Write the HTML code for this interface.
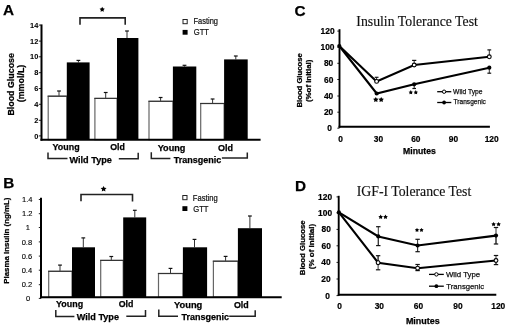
<!DOCTYPE html>
<html><head><meta charset="utf-8"><title>Figure</title>
<style>
html,body{margin:0;padding:0;background:#fff;}
body{width:520px;height:327px;overflow:hidden;font-family:"Liberation Sans", sans-serif;}
svg{display:block;filter:grayscale(100%);}
</style></head>
<body>
<svg width="520" height="327" viewBox="0 0 520 327">
<rect x="0" y="0" width="520" height="327" fill="#fff"/>
<text x="3.0" y="15.4" font-size="15.3" font-weight="bold" stroke="#000" stroke-width="0.25" text-anchor="start" font-family='"Liberation Sans", sans-serif' fill="#000">A</text>
<text x="38.3" y="27.7" font-size="7.4" font-weight="bold" stroke="#000" stroke-width="0.05" text-anchor="end" font-family='"Liberation Sans", sans-serif' fill="#000">14</text>
<line x1="38.8" y1="25.1" x2="41" y2="25.1" stroke="#222" stroke-width="1" stroke-linecap="butt"/>
<text x="38.3" y="43.7" font-size="7.4" font-weight="bold" stroke="#000" stroke-width="0.05" text-anchor="end" font-family='"Liberation Sans", sans-serif' fill="#000">12</text>
<line x1="38.8" y1="41.1" x2="41" y2="41.1" stroke="#222" stroke-width="1" stroke-linecap="butt"/>
<text x="38.3" y="59.4" font-size="7.4" font-weight="bold" stroke="#000" stroke-width="0.05" text-anchor="end" font-family='"Liberation Sans", sans-serif' fill="#000">10</text>
<line x1="38.8" y1="56.8" x2="41" y2="56.8" stroke="#222" stroke-width="1" stroke-linecap="butt"/>
<text x="38.3" y="75.3" font-size="7.4" font-weight="bold" stroke="#000" stroke-width="0.05" text-anchor="end" font-family='"Liberation Sans", sans-serif' fill="#000">8</text>
<line x1="38.8" y1="72.7" x2="41" y2="72.7" stroke="#222" stroke-width="1" stroke-linecap="butt"/>
<text x="38.3" y="91.1" font-size="7.4" font-weight="bold" stroke="#000" stroke-width="0.05" text-anchor="end" font-family='"Liberation Sans", sans-serif' fill="#000">6</text>
<line x1="38.8" y1="88.5" x2="41" y2="88.5" stroke="#222" stroke-width="1" stroke-linecap="butt"/>
<text x="38.3" y="106.9" font-size="7.4" font-weight="bold" stroke="#000" stroke-width="0.05" text-anchor="end" font-family='"Liberation Sans", sans-serif' fill="#000">4</text>
<line x1="38.8" y1="104.3" x2="41" y2="104.3" stroke="#222" stroke-width="1" stroke-linecap="butt"/>
<text x="38.3" y="122.9" font-size="7.4" font-weight="bold" stroke="#000" stroke-width="0.05" text-anchor="end" font-family='"Liberation Sans", sans-serif' fill="#000">2</text>
<line x1="38.8" y1="120.3" x2="41" y2="120.3" stroke="#222" stroke-width="1" stroke-linecap="butt"/>
<text x="38.3" y="138.5" font-size="7.4" font-weight="bold" stroke="#000" stroke-width="0.05" text-anchor="end" font-family='"Liberation Sans", sans-serif' fill="#000">0</text>
<line x1="38.8" y1="135.9" x2="41" y2="135.9" stroke="#222" stroke-width="1" stroke-linecap="butt"/>
<text transform="translate(13.7,84.35) rotate(-90)" x="0" y="0" font-size="8.9" font-weight="bold" stroke="#000" stroke-width="0.25" text-anchor="middle" font-family='"Liberation Sans", sans-serif' textLength="62.5" lengthAdjust="spacingAndGlyphs">Blood Glucose</text>
<text transform="translate(24.3,83.5) rotate(-90)" x="0" y="0" font-size="8.9" font-weight="bold" stroke="#000" stroke-width="0.25" text-anchor="middle" font-family='"Liberation Sans", sans-serif' textLength="37.6" lengthAdjust="spacingAndGlyphs">(mmol/L)</text>
<line x1="59.0" y1="96.2" x2="59.0" y2="91.0" stroke="#333" stroke-width="1.0" stroke-linecap="butt"/>
<line x1="57.1" y1="91.0" x2="60.9" y2="91.0" stroke="#111" stroke-width="1.2" stroke-linecap="butt"/>
<line x1="78.4" y1="62.4" x2="78.4" y2="60.4" stroke="#333" stroke-width="1.0" stroke-linecap="butt"/>
<line x1="76.5" y1="60.4" x2="80.3" y2="60.4" stroke="#111" stroke-width="1.2" stroke-linecap="butt"/>
<line x1="105.7" y1="98.4" x2="105.7" y2="92.5" stroke="#333" stroke-width="1.0" stroke-linecap="butt"/>
<line x1="103.8" y1="92.5" x2="107.6" y2="92.5" stroke="#111" stroke-width="1.2" stroke-linecap="butt"/>
<line x1="127.0" y1="38.0" x2="127.0" y2="31.0" stroke="#333" stroke-width="1.0" stroke-linecap="butt"/>
<line x1="125.1" y1="31.0" x2="128.9" y2="31.0" stroke="#111" stroke-width="1.2" stroke-linecap="butt"/>
<line x1="160.6" y1="101.3" x2="160.6" y2="97.5" stroke="#333" stroke-width="1.0" stroke-linecap="butt"/>
<line x1="158.7" y1="97.5" x2="162.5" y2="97.5" stroke="#111" stroke-width="1.2" stroke-linecap="butt"/>
<line x1="184.5" y1="66.5" x2="184.5" y2="65.3" stroke="#333" stroke-width="1.0" stroke-linecap="butt"/>
<line x1="182.6" y1="65.3" x2="186.4" y2="65.3" stroke="#111" stroke-width="1.2" stroke-linecap="butt"/>
<line x1="212.6" y1="103.5" x2="212.6" y2="99.0" stroke="#333" stroke-width="1.0" stroke-linecap="butt"/>
<line x1="210.7" y1="99.0" x2="214.5" y2="99.0" stroke="#111" stroke-width="1.2" stroke-linecap="butt"/>
<line x1="235.8" y1="59.4" x2="235.8" y2="56.0" stroke="#333" stroke-width="1.0" stroke-linecap="butt"/>
<line x1="233.9" y1="56.0" x2="237.7" y2="56.0" stroke="#111" stroke-width="1.2" stroke-linecap="butt"/>
<rect x="48.2" y="96.2" width="18.6" height="43.5" fill="#fff" stroke="#666" stroke-width="1.2"/>
<line x1="47.6" y1="96.2" x2="66.8" y2="96.2" stroke="#333" stroke-width="1.1" stroke-linecap="butt"/>
<rect x="66.8" y="62.4" width="22.8" height="77.3" fill="#000"/>
<rect x="94.9" y="98.4" width="22.1" height="41.3" fill="#fff" stroke="#666" stroke-width="1.2"/>
<line x1="94.3" y1="98.4" x2="117.0" y2="98.4" stroke="#333" stroke-width="1.1" stroke-linecap="butt"/>
<rect x="117.0" y="38.0" width="21.4" height="101.7" fill="#000"/>
<rect x="149.0" y="101.3" width="23.9" height="38.4" fill="#fff" stroke="#666" stroke-width="1.2"/>
<line x1="148.4" y1="101.3" x2="172.9" y2="101.3" stroke="#333" stroke-width="1.1" stroke-linecap="butt"/>
<rect x="172.9" y="66.5" width="23.4" height="73.2" fill="#000"/>
<rect x="200.7" y="103.5" width="23.4" height="36.2" fill="#fff" stroke="#666" stroke-width="1.2"/>
<line x1="200.1" y1="103.5" x2="224.1" y2="103.5" stroke="#333" stroke-width="1.1" stroke-linecap="butt"/>
<rect x="224.1" y="59.4" width="23.6" height="80.3" fill="#000"/>
<line x1="41.5" y1="24.4" x2="41.5" y2="140.7" stroke="#000" stroke-width="2" stroke-linecap="butt"/>
<line x1="40.5" y1="139.7" x2="260.6" y2="139.7" stroke="#000" stroke-width="2.1" stroke-linecap="butt"/>
<polyline points="80,24.8 80,17.9 125.2,17.9 125.2,24.8" fill="none" stroke="#222" stroke-width="1.6" stroke-linejoin="miter"/>
<polygon points="102.20,6.70 103.02,8.37 104.86,8.63 103.53,9.93 103.85,11.77 102.20,10.90 100.55,11.77 100.87,9.93 99.54,8.63 101.38,8.37" fill="#000"/>
<rect x="183.0" y="19.5" width="4.2" height="4.2" fill="#fff" stroke="#222" stroke-width="1.0"/>
<text x="193.5" y="24.0" font-size="8.6" stroke="#111" stroke-width="0.22" text-anchor="start" font-family='"Liberation Sans", sans-serif' fill="#111" textLength="24.5" lengthAdjust="spacingAndGlyphs">Fasting</text>
<rect x="182.6" y="29.9" width="5.0" height="4.8" fill="#000"/>
<text x="193.8" y="34.8" font-size="8.6" stroke="#111" stroke-width="0.22" text-anchor="start" font-family='"Liberation Sans", sans-serif' fill="#111" textLength="15.2" lengthAdjust="spacingAndGlyphs">GTT</text>
<text x="52.5" y="149.7" font-size="9.2" font-weight="bold" stroke="#000" stroke-width="0.25" text-anchor="start" font-family='"Liberation Sans", sans-serif' fill="#000" textLength="27.1" lengthAdjust="spacingAndGlyphs">Young</text>
<text x="110.2" y="149.8" font-size="9.2" font-weight="bold" stroke="#000" stroke-width="0.25" text-anchor="start" font-family='"Liberation Sans", sans-serif' fill="#000" textLength="14.7" lengthAdjust="spacingAndGlyphs">Old</text>
<text x="157.7" y="151.4" font-size="9.2" font-weight="bold" stroke="#000" stroke-width="0.25" text-anchor="start" font-family='"Liberation Sans", sans-serif' fill="#000" textLength="27.7" lengthAdjust="spacingAndGlyphs">Young</text>
<text x="217.9" y="151.4" font-size="9.2" font-weight="bold" stroke="#000" stroke-width="0.25" text-anchor="start" font-family='"Liberation Sans", sans-serif' fill="#000" textLength="15.0" lengthAdjust="spacingAndGlyphs">Old</text>
<polyline points="48.0,152.5 48.0,158.6 67.5,158.6" fill="none" stroke="#222" stroke-width="1.5" stroke-linejoin="miter"/>
<text x="69.5" y="163.0" font-size="9.3" font-weight="bold" stroke="#000" stroke-width="0.25" text-anchor="start" font-family='"Liberation Sans", sans-serif' fill="#000" textLength="42.4" lengthAdjust="spacingAndGlyphs">Wild Type</text>
<polyline points="118.8,158.7 138.2,158.7 138.2,152.7" fill="none" stroke="#222" stroke-width="1.5" stroke-linejoin="miter"/>
<polyline points="151.3,152.3 151.3,158.6 170.4,158.6" fill="none" stroke="#222" stroke-width="1.5" stroke-linejoin="miter"/>
<text x="173.8" y="163.0" font-size="9.3" font-weight="bold" stroke="#000" stroke-width="0.25" text-anchor="start" font-family='"Liberation Sans", sans-serif' fill="#000" textLength="47.5" lengthAdjust="spacingAndGlyphs">Transgenic</text>
<polyline points="221.9,158.0 247.3,158.0 247.3,152.5" fill="none" stroke="#222" stroke-width="1.5" stroke-linejoin="miter"/>
<text x="3.3" y="187.7" font-size="15.3" font-weight="bold" stroke="#000" stroke-width="0.25" text-anchor="start" font-family='"Liberation Sans", sans-serif' fill="#000">B</text>
<text x="27.2" y="202.1" font-size="7.5" stroke="#000" stroke-width="0.12" text-anchor="middle" font-family='"Liberation Sans", sans-serif' fill="#000">1.4</text>
<line x1="38.8" y1="199.5" x2="41" y2="199.5" stroke="#222" stroke-width="1" stroke-linecap="butt"/>
<text x="27.3" y="216.3" font-size="7.5" stroke="#000" stroke-width="0.12" text-anchor="middle" font-family='"Liberation Sans", sans-serif' fill="#000">1.2</text>
<line x1="38.8" y1="213.7" x2="41" y2="213.7" stroke="#222" stroke-width="1" stroke-linecap="butt"/>
<text x="27.9" y="230.1" font-size="7.5" stroke="#000" stroke-width="0.12" text-anchor="middle" font-family='"Liberation Sans", sans-serif' fill="#000">1</text>
<line x1="38.8" y1="227.5" x2="41" y2="227.5" stroke="#222" stroke-width="1" stroke-linecap="butt"/>
<text x="26.9" y="244.5" font-size="7.5" stroke="#000" stroke-width="0.12" text-anchor="middle" font-family='"Liberation Sans", sans-serif' fill="#000">0.8</text>
<line x1="38.8" y1="241.9" x2="41" y2="241.9" stroke="#222" stroke-width="1" stroke-linecap="butt"/>
<text x="26.9" y="258.7" font-size="7.5" stroke="#000" stroke-width="0.12" text-anchor="middle" font-family='"Liberation Sans", sans-serif' fill="#000">0.6</text>
<line x1="38.8" y1="256.1" x2="41" y2="256.1" stroke="#222" stroke-width="1" stroke-linecap="butt"/>
<text x="26.9" y="272.8" font-size="7.5" stroke="#000" stroke-width="0.12" text-anchor="middle" font-family='"Liberation Sans", sans-serif' fill="#000">0.4</text>
<line x1="38.8" y1="270.2" x2="41" y2="270.2" stroke="#222" stroke-width="1" stroke-linecap="butt"/>
<text x="26.9" y="287.3" font-size="7.5" stroke="#000" stroke-width="0.12" text-anchor="middle" font-family='"Liberation Sans", sans-serif' fill="#000">0.2</text>
<line x1="38.8" y1="284.7" x2="41" y2="284.7" stroke="#222" stroke-width="1" stroke-linecap="butt"/>
<text x="28.2" y="301.0" font-size="7.5" stroke="#000" stroke-width="0.12" text-anchor="middle" font-family='"Liberation Sans", sans-serif' fill="#000">0</text>
<line x1="38.8" y1="298.4" x2="41" y2="298.4" stroke="#222" stroke-width="1" stroke-linecap="butt"/>
<text transform="translate(9.3,240.65) rotate(-90)" x="0" y="0" font-size="7.8" font-weight="bold" stroke="#000" stroke-width="0.25" text-anchor="middle" font-family='"Liberation Sans", sans-serif' textLength="86.1" lengthAdjust="spacingAndGlyphs">Plasma Insulin (ng/mL)</text>
<line x1="60.0" y1="271.3" x2="60.0" y2="265.1" stroke="#333" stroke-width="1.0" stroke-linecap="butt"/>
<line x1="58.1" y1="265.1" x2="61.9" y2="265.1" stroke="#111" stroke-width="1.2" stroke-linecap="butt"/>
<line x1="83.3" y1="247.3" x2="83.3" y2="237.9" stroke="#333" stroke-width="1.0" stroke-linecap="butt"/>
<line x1="81.4" y1="237.9" x2="85.2" y2="237.9" stroke="#111" stroke-width="1.2" stroke-linecap="butt"/>
<line x1="111.3" y1="260.4" x2="111.3" y2="256.5" stroke="#333" stroke-width="1.0" stroke-linecap="butt"/>
<line x1="109.4" y1="256.5" x2="113.2" y2="256.5" stroke="#111" stroke-width="1.2" stroke-linecap="butt"/>
<line x1="134.8" y1="217.4" x2="134.8" y2="210.3" stroke="#333" stroke-width="1.0" stroke-linecap="butt"/>
<line x1="132.9" y1="210.3" x2="136.7" y2="210.3" stroke="#111" stroke-width="1.2" stroke-linecap="butt"/>
<line x1="170.5" y1="273.5" x2="170.5" y2="268.4" stroke="#333" stroke-width="1.0" stroke-linecap="butt"/>
<line x1="168.6" y1="268.4" x2="172.4" y2="268.4" stroke="#111" stroke-width="1.2" stroke-linecap="butt"/>
<line x1="194.5" y1="247.3" x2="194.5" y2="239.4" stroke="#333" stroke-width="1.0" stroke-linecap="butt"/>
<line x1="192.6" y1="239.4" x2="196.4" y2="239.4" stroke="#111" stroke-width="1.2" stroke-linecap="butt"/>
<line x1="225.6" y1="261.2" x2="225.6" y2="256.4" stroke="#333" stroke-width="1.0" stroke-linecap="butt"/>
<line x1="223.7" y1="256.4" x2="227.5" y2="256.4" stroke="#111" stroke-width="1.2" stroke-linecap="butt"/>
<line x1="249.9" y1="228.2" x2="249.9" y2="216.0" stroke="#333" stroke-width="1.0" stroke-linecap="butt"/>
<line x1="248.0" y1="216.0" x2="251.8" y2="216.0" stroke="#111" stroke-width="1.2" stroke-linecap="butt"/>
<rect x="48.7" y="271.3" width="23.3" height="25.9" fill="#fff" stroke="#666" stroke-width="1.2"/>
<line x1="48.1" y1="271.3" x2="72.0" y2="271.3" stroke="#333" stroke-width="1.1" stroke-linecap="butt"/>
<rect x="72.0" y="247.3" width="23.0" height="49.9" fill="#000"/>
<rect x="100.7" y="260.4" width="22.5" height="36.8" fill="#fff" stroke="#666" stroke-width="1.2"/>
<line x1="100.1" y1="260.4" x2="123.2" y2="260.4" stroke="#333" stroke-width="1.1" stroke-linecap="butt"/>
<rect x="123.2" y="217.4" width="23.0" height="79.8" fill="#000"/>
<rect x="158.5" y="273.5" width="24.4" height="23.7" fill="#fff" stroke="#666" stroke-width="1.2"/>
<line x1="157.9" y1="273.5" x2="182.9" y2="273.5" stroke="#333" stroke-width="1.1" stroke-linecap="butt"/>
<rect x="182.9" y="247.3" width="24.2" height="49.9" fill="#000"/>
<rect x="213.4" y="261.2" width="24.5" height="36.0" fill="#fff" stroke="#666" stroke-width="1.2"/>
<line x1="212.8" y1="261.2" x2="237.9" y2="261.2" stroke="#333" stroke-width="1.1" stroke-linecap="butt"/>
<rect x="237.9" y="228.2" width="24.1" height="69.0" fill="#000"/>
<line x1="41.0" y1="197.8" x2="41.0" y2="298.2" stroke="#000" stroke-width="2" stroke-linecap="butt"/>
<line x1="40.0" y1="297.2" x2="281.7" y2="297.2" stroke="#000" stroke-width="2" stroke-linecap="butt"/>
<polyline points="81.0,201.3 81.0,194.5 132.5,194.5 132.5,201.5" fill="none" stroke="#222" stroke-width="1.6" stroke-linejoin="miter"/>
<polygon points="103.60,185.90 104.51,187.75 106.55,188.04 105.07,189.48 105.42,191.51 103.60,190.55 101.78,191.51 102.13,189.48 100.65,188.04 102.69,187.75" fill="#000"/>
<rect x="182.8" y="195.5" width="4.2" height="4.2" fill="#fff" stroke="#222" stroke-width="1.0"/>
<text x="192.8" y="200.7" font-size="8.6" stroke="#111" stroke-width="0.22" text-anchor="start" font-family='"Liberation Sans", sans-serif' fill="#111" textLength="24.9" lengthAdjust="spacingAndGlyphs">Fasting</text>
<rect x="182.4" y="206.2" width="5.0" height="4.8" fill="#000"/>
<text x="193.2" y="211.6" font-size="8.6" stroke="#111" stroke-width="0.22" text-anchor="start" font-family='"Liberation Sans", sans-serif' fill="#111" textLength="15.3" lengthAdjust="spacingAndGlyphs">GTT</text>
<text x="56.0" y="307.4" font-size="9.2" font-weight="bold" stroke="#000" stroke-width="0.25" text-anchor="start" font-family='"Liberation Sans", sans-serif' fill="#000" textLength="27.1" lengthAdjust="spacingAndGlyphs">Young</text>
<text x="118.7" y="307.4" font-size="9.2" font-weight="bold" stroke="#000" stroke-width="0.25" text-anchor="start" font-family='"Liberation Sans", sans-serif' fill="#000" textLength="14.7" lengthAdjust="spacingAndGlyphs">Old</text>
<text x="174.0" y="307.6" font-size="9.2" font-weight="bold" stroke="#000" stroke-width="0.25" text-anchor="start" font-family='"Liberation Sans", sans-serif' fill="#000" textLength="28.3" lengthAdjust="spacingAndGlyphs">Young</text>
<text x="233.9" y="307.5" font-size="9.2" font-weight="bold" stroke="#000" stroke-width="0.25" text-anchor="start" font-family='"Liberation Sans", sans-serif' fill="#000" textLength="14.8" lengthAdjust="spacingAndGlyphs">Old</text>
<polyline points="55.8,310.0 55.8,316.4 74.4,316.4" fill="none" stroke="#222" stroke-width="1.5" stroke-linejoin="miter"/>
<text x="76.7" y="320.1" font-size="9.3" font-weight="bold" stroke="#000" stroke-width="0.25" text-anchor="start" font-family='"Liberation Sans", sans-serif' fill="#000" textLength="42.3" lengthAdjust="spacingAndGlyphs">Wild Type</text>
<polyline points="126.3,316.2 145.5,316.2 145.5,310.0" fill="none" stroke="#222" stroke-width="1.5" stroke-linejoin="miter"/>
<polyline points="158.8,309.4 158.8,316.2 178.0,316.2" fill="none" stroke="#222" stroke-width="1.5" stroke-linejoin="miter"/>
<text x="181.5" y="320.3" font-size="9.3" font-weight="bold" stroke="#000" stroke-width="0.25" text-anchor="start" font-family='"Liberation Sans", sans-serif' fill="#000" textLength="47.5" lengthAdjust="spacingAndGlyphs">Transgenic</text>
<polyline points="229.2,316.2 255.2,316.2 255.2,310.2" fill="none" stroke="#222" stroke-width="1.5" stroke-linejoin="miter"/>
<text x="294.4" y="16.2" font-size="15.3" font-weight="bold" stroke="#000" stroke-width="0.25" text-anchor="start" font-family='"Liberation Sans", sans-serif' fill="#000">C</text>
<text x="356.3" y="25.9" font-size="14.2" stroke="#111" stroke-width="0.15" text-anchor="start" font-family='"Liberation Serif", serif' fill="#111" textLength="121.6" lengthAdjust="spacingAndGlyphs">Insulin Tolerance Test</text>
<text x="327.6" y="34.1" font-size="8.4" font-weight="bold" stroke="#000" stroke-width="0.2" text-anchor="middle" font-family='"Liberation Sans", sans-serif' fill="#000">120</text>
<line x1="337.3" y1="31.1" x2="339.5" y2="31.1" stroke="#222" stroke-width="1" stroke-linecap="butt"/>
<text x="327.5" y="50.2" font-size="8.4" font-weight="bold" stroke="#000" stroke-width="0.2" text-anchor="middle" font-family='"Liberation Sans", sans-serif' fill="#000">100</text>
<line x1="337.3" y1="47.2" x2="339.5" y2="47.2" stroke="#222" stroke-width="1" stroke-linecap="butt"/>
<text x="328.6" y="66.3" font-size="8.4" font-weight="bold" stroke="#000" stroke-width="0.2" text-anchor="middle" font-family='"Liberation Sans", sans-serif' fill="#000">80</text>
<line x1="337.3" y1="63.3" x2="339.5" y2="63.3" stroke="#222" stroke-width="1" stroke-linecap="butt"/>
<text x="328.7" y="82.5" font-size="8.4" font-weight="bold" stroke="#000" stroke-width="0.2" text-anchor="middle" font-family='"Liberation Sans", sans-serif' fill="#000">60</text>
<line x1="337.3" y1="79.5" x2="339.5" y2="79.5" stroke="#222" stroke-width="1" stroke-linecap="butt"/>
<text x="328.6" y="99.0" font-size="8.4" font-weight="bold" stroke="#000" stroke-width="0.2" text-anchor="middle" font-family='"Liberation Sans", sans-serif' fill="#000">40</text>
<line x1="337.3" y1="96.0" x2="339.5" y2="96.0" stroke="#222" stroke-width="1" stroke-linecap="butt"/>
<text x="328.6" y="115.2" font-size="8.4" font-weight="bold" stroke="#000" stroke-width="0.2" text-anchor="middle" font-family='"Liberation Sans", sans-serif' fill="#000">20</text>
<line x1="337.3" y1="112.2" x2="339.5" y2="112.2" stroke="#222" stroke-width="1" stroke-linecap="butt"/>
<text x="329.5" y="131.2" font-size="8.4" font-weight="bold" stroke="#000" stroke-width="0.2" text-anchor="middle" font-family='"Liberation Sans", sans-serif' fill="#000">0</text>
<line x1="337.3" y1="128.2" x2="339.5" y2="128.2" stroke="#222" stroke-width="1" stroke-linecap="butt"/>
<text x="340.5" y="141.8" font-size="8.4" font-weight="bold" stroke="#000" stroke-width="0.2" text-anchor="middle" font-family='"Liberation Sans", sans-serif' fill="#000">0</text>
<text x="378.4" y="141.8" font-size="8.4" font-weight="bold" stroke="#000" stroke-width="0.2" text-anchor="middle" font-family='"Liberation Sans", sans-serif' fill="#000">30</text>
<text x="415.8" y="141.8" font-size="8.4" font-weight="bold" stroke="#000" stroke-width="0.2" text-anchor="middle" font-family='"Liberation Sans", sans-serif' fill="#000">60</text>
<text x="453.5" y="141.8" font-size="8.4" font-weight="bold" stroke="#000" stroke-width="0.2" text-anchor="middle" font-family='"Liberation Sans", sans-serif' fill="#000">90</text>
<text x="491.7" y="141.8" font-size="8.4" font-weight="bold" stroke="#000" stroke-width="0.2" text-anchor="middle" font-family='"Liberation Sans", sans-serif' fill="#000">120</text>
<text x="403.1" y="153.8" font-size="8.7" font-weight="bold" stroke="#000" stroke-width="0.25" text-anchor="start" font-family='"Liberation Sans", sans-serif' fill="#000" textLength="32.7" lengthAdjust="spacingAndGlyphs">Minutes</text>
<text transform="translate(302.2,80.4) rotate(-90)" x="0" y="0" font-size="7.9" font-weight="bold" stroke="#000" stroke-width="0.25" text-anchor="middle" font-family='"Liberation Sans", sans-serif' textLength="54.2" lengthAdjust="spacingAndGlyphs">Blood Glucose</text>
<text transform="translate(311.0,80.85) rotate(-90)" x="0" y="0" font-size="7.9" font-weight="bold" stroke="#000" stroke-width="0.25" text-anchor="middle" font-family='"Liberation Sans", sans-serif' textLength="42.3" lengthAdjust="spacingAndGlyphs">(%of Initial)</text>
<line x1="339.5" y1="29.2" x2="339.5" y2="127.8" stroke="#000" stroke-width="1.9" stroke-linecap="butt"/>
<line x1="338.6" y1="126.8" x2="489.9" y2="126.8" stroke="#000" stroke-width="2" stroke-linecap="butt"/>
<line x1="376.6" y1="81.4" x2="376.6" y2="77.3" stroke="#333" stroke-width="1.0" stroke-linecap="butt"/>
<line x1="374.7" y1="77.3" x2="378.5" y2="77.3" stroke="#111" stroke-width="1.2" stroke-linecap="butt"/>
<line x1="414.2" y1="65.0" x2="414.2" y2="60.4" stroke="#333" stroke-width="1.0" stroke-linecap="butt"/>
<line x1="412.1" y1="60.4" x2="416.3" y2="60.4" stroke="#111" stroke-width="1.2" stroke-linecap="butt"/>
<line x1="489.3" y1="56.8" x2="489.3" y2="49.9" stroke="#333" stroke-width="1.0" stroke-linecap="butt"/>
<line x1="487.4" y1="49.9" x2="491.2" y2="49.9" stroke="#111" stroke-width="1.2" stroke-linecap="butt"/>
<line x1="414.2" y1="84.3" x2="414.2" y2="88.5" stroke="#333" stroke-width="1.0" stroke-linecap="butt"/>
<line x1="412.4" y1="88.5" x2="416.0" y2="88.5" stroke="#111" stroke-width="1.2" stroke-linecap="butt"/>
<line x1="489.3" y1="67.7" x2="489.3" y2="73.2" stroke="#333" stroke-width="1.0" stroke-linecap="butt"/>
<line x1="487.4" y1="73.2" x2="491.2" y2="73.2" stroke="#111" stroke-width="1.2" stroke-linecap="butt"/>
<polyline points="339.3,46.0 376.6,81.4 414.2,65.0 489.3,56.8" fill="none" stroke="#000" stroke-width="2.1" stroke-linejoin="miter"/>
<polyline points="339.3,46.0 376.7,93.5 414.2,84.3 489.3,67.7" fill="none" stroke="#000" stroke-width="2.1" stroke-linejoin="miter"/>
<circle cx="339.3" cy="46.0" r="2.1" fill="#000"/>
<circle cx="376.7" cy="93.5" r="2.1" fill="#000"/>
<circle cx="414.2" cy="84.3" r="2.1" fill="#000"/>
<circle cx="489.3" cy="67.7" r="2.1" fill="#000"/>
<circle cx="376.6" cy="81.4" r="1.9" fill="#fff" stroke="#000" stroke-width="1.1"/>
<circle cx="414.2" cy="65.0" r="1.9" fill="#fff" stroke="#000" stroke-width="1.1"/>
<circle cx="489.3" cy="56.8" r="1.9" fill="#fff" stroke="#000" stroke-width="1.1"/>
<polygon points="375.80,96.90 376.71,98.45 378.46,98.83 377.26,100.18 377.45,101.97 375.80,101.24 374.15,101.97 374.34,100.18 373.14,98.83 374.89,98.45" fill="#000"/>
<polygon points="381.20,96.90 382.11,98.45 383.86,98.83 382.66,100.18 382.85,101.97 381.20,101.24 379.55,101.97 379.74,100.18 378.54,98.83 380.29,98.45" fill="#000"/>
<polygon points="410.80,90.10 411.54,91.38 412.99,91.69 412.00,92.79 412.15,94.26 410.80,93.67 409.45,94.26 409.60,92.79 408.61,91.69 410.06,91.38" fill="#000"/>
<polygon points="415.80,90.10 416.54,91.38 417.99,91.69 417.00,92.79 417.15,94.26 415.80,93.67 414.45,94.26 414.60,92.79 413.61,91.69 415.06,91.38" fill="#000"/>
<line x1="437.2" y1="91.7" x2="451.3" y2="91.7" stroke="#000" stroke-width="1.3" stroke-linecap="butt"/>
<circle cx="444.1" cy="91.7" r="1.7" fill="#fff" stroke="#000" stroke-width="1"/>
<text x="453.1" y="94.0" font-size="7.0" stroke="#111" stroke-width="0.25" text-anchor="start" font-family='"Liberation Sans", sans-serif' fill="#111" textLength="29.4" lengthAdjust="spacingAndGlyphs">Wild Type</text>
<line x1="437.2" y1="102.5" x2="451.3" y2="102.5" stroke="#000" stroke-width="1.3" stroke-linecap="butt"/>
<circle cx="444.1" cy="102.5" r="1.9" fill="#000"/>
<text x="453.6" y="103.9" font-size="7.0" stroke="#111" stroke-width="0.25" text-anchor="start" font-family='"Liberation Sans", sans-serif' fill="#111" textLength="32.3" lengthAdjust="spacingAndGlyphs">Transgenic</text>
<text x="295.0" y="191.2" font-size="15.3" font-weight="bold" stroke="#000" stroke-width="0.25" text-anchor="start" font-family='"Liberation Sans", sans-serif' fill="#000">D</text>
<text x="356.7" y="195.8" font-size="14.2" stroke="#111" stroke-width="0.15" text-anchor="start" font-family='"Liberation Serif", serif' fill="#111" textLength="114.6" lengthAdjust="spacingAndGlyphs">IGF-I Tolerance Test</text>
<text x="325.1" y="199.9" font-size="8.4" font-weight="bold" stroke="#000" stroke-width="0.2" text-anchor="middle" font-family='"Liberation Sans", sans-serif' fill="#000">120</text>
<line x1="336.5" y1="196.9" x2="338.7" y2="196.9" stroke="#222" stroke-width="1" stroke-linecap="butt"/>
<text x="325.1" y="215.9" font-size="8.4" font-weight="bold" stroke="#000" stroke-width="0.2" text-anchor="middle" font-family='"Liberation Sans", sans-serif' fill="#000">100</text>
<line x1="336.5" y1="212.9" x2="338.7" y2="212.9" stroke="#222" stroke-width="1" stroke-linecap="butt"/>
<text x="326.2" y="232.4" font-size="8.4" font-weight="bold" stroke="#000" stroke-width="0.2" text-anchor="middle" font-family='"Liberation Sans", sans-serif' fill="#000">80</text>
<line x1="336.5" y1="229.4" x2="338.7" y2="229.4" stroke="#222" stroke-width="1" stroke-linecap="butt"/>
<text x="326.2" y="248.8" font-size="8.4" font-weight="bold" stroke="#000" stroke-width="0.2" text-anchor="middle" font-family='"Liberation Sans", sans-serif' fill="#000">60</text>
<line x1="336.5" y1="245.8" x2="338.7" y2="245.8" stroke="#222" stroke-width="1" stroke-linecap="butt"/>
<text x="325.9" y="265.4" font-size="8.4" font-weight="bold" stroke="#000" stroke-width="0.2" text-anchor="middle" font-family='"Liberation Sans", sans-serif' fill="#000">40</text>
<line x1="336.5" y1="262.4" x2="338.7" y2="262.4" stroke="#222" stroke-width="1" stroke-linecap="butt"/>
<text x="325.9" y="282.0" font-size="8.4" font-weight="bold" stroke="#000" stroke-width="0.2" text-anchor="middle" font-family='"Liberation Sans", sans-serif' fill="#000">20</text>
<line x1="336.5" y1="279.0" x2="338.7" y2="279.0" stroke="#222" stroke-width="1" stroke-linecap="butt"/>
<text x="327.6" y="298.6" font-size="8.4" font-weight="bold" stroke="#000" stroke-width="0.2" text-anchor="middle" font-family='"Liberation Sans", sans-serif' fill="#000">0</text>
<line x1="336.5" y1="295.6" x2="338.7" y2="295.6" stroke="#222" stroke-width="1" stroke-linecap="butt"/>
<text x="339.7" y="309.4" font-size="8.4" font-weight="bold" stroke="#000" stroke-width="0.2" text-anchor="middle" font-family='"Liberation Sans", sans-serif' fill="#000">0</text>
<text x="379.3" y="309.4" font-size="8.4" font-weight="bold" stroke="#000" stroke-width="0.2" text-anchor="middle" font-family='"Liberation Sans", sans-serif' fill="#000">30</text>
<text x="418.5" y="309.4" font-size="8.4" font-weight="bold" stroke="#000" stroke-width="0.2" text-anchor="middle" font-family='"Liberation Sans", sans-serif' fill="#000">60</text>
<text x="458.0" y="309.4" font-size="8.4" font-weight="bold" stroke="#000" stroke-width="0.2" text-anchor="middle" font-family='"Liberation Sans", sans-serif' fill="#000">90</text>
<text x="498.3" y="309.4" font-size="8.4" font-weight="bold" stroke="#000" stroke-width="0.2" text-anchor="middle" font-family='"Liberation Sans", sans-serif' fill="#000">120</text>
<text x="405.9" y="323.5" font-size="8.7" font-weight="bold" stroke="#000" stroke-width="0.25" text-anchor="start" font-family='"Liberation Sans", sans-serif' fill="#000" textLength="33.8" lengthAdjust="spacingAndGlyphs">Minutes</text>
<text transform="translate(304.8,247.75) rotate(-90)" x="0" y="0" font-size="8.1" font-weight="bold" stroke="#000" stroke-width="0.25" text-anchor="middle" font-family='"Liberation Sans", sans-serif' textLength="54.9" lengthAdjust="spacingAndGlyphs">Blood Glucose</text>
<text transform="translate(313.9,246.5) rotate(-90)" x="0" y="0" font-size="8.1" font-weight="bold" stroke="#000" stroke-width="0.25" text-anchor="middle" font-family='"Liberation Sans", sans-serif' textLength="45.4" lengthAdjust="spacingAndGlyphs">(% of Initial)</text>
<line x1="338.7" y1="195.8" x2="338.7" y2="295.7" stroke="#000" stroke-width="1.9" stroke-linecap="butt"/>
<line x1="337.8" y1="294.7" x2="496.3" y2="294.7" stroke="#000" stroke-width="2" stroke-linecap="butt"/>
<line x1="378.3" y1="245.6" x2="378.3" y2="226.7" stroke="#333" stroke-width="1.0" stroke-linecap="butt"/>
<line x1="376.1" y1="226.7" x2="380.5" y2="226.7" stroke="#111" stroke-width="1.2" stroke-linecap="butt"/>
<line x1="378.3" y1="236.4" x2="378.3" y2="245.6" stroke="#333" stroke-width="1.0" stroke-linecap="butt"/>
<line x1="376.1" y1="245.6" x2="380.5" y2="245.6" stroke="#111" stroke-width="1.2" stroke-linecap="butt"/>
<line x1="378.1" y1="255.7" x2="378.1" y2="269.8" stroke="#333" stroke-width="1.0" stroke-linecap="butt"/>
<line x1="375.9" y1="269.8" x2="380.3" y2="269.8" stroke="#111" stroke-width="1.2" stroke-linecap="butt"/>
<line x1="378.1" y1="262.7" x2="378.1" y2="255.7" stroke="#333" stroke-width="1.0" stroke-linecap="butt"/>
<line x1="375.9" y1="255.7" x2="380.3" y2="255.7" stroke="#111" stroke-width="1.2" stroke-linecap="butt"/>
<line x1="417.6" y1="251.7" x2="417.6" y2="239.3" stroke="#333" stroke-width="1.0" stroke-linecap="butt"/>
<line x1="415.4" y1="239.3" x2="419.8" y2="239.3" stroke="#111" stroke-width="1.2" stroke-linecap="butt"/>
<line x1="417.6" y1="245.5" x2="417.6" y2="251.7" stroke="#333" stroke-width="1.0" stroke-linecap="butt"/>
<line x1="415.4" y1="251.7" x2="419.8" y2="251.7" stroke="#111" stroke-width="1.2" stroke-linecap="butt"/>
<line x1="417.6" y1="270.6" x2="417.6" y2="264.5" stroke="#333" stroke-width="1.0" stroke-linecap="butt"/>
<line x1="415.4" y1="264.5" x2="419.8" y2="264.5" stroke="#111" stroke-width="1.2" stroke-linecap="butt"/>
<line x1="417.6" y1="268.2" x2="417.6" y2="270.6" stroke="#333" stroke-width="1.0" stroke-linecap="butt"/>
<line x1="415.4" y1="270.6" x2="419.8" y2="270.6" stroke="#111" stroke-width="1.2" stroke-linecap="butt"/>
<line x1="496.0" y1="244.0" x2="496.0" y2="227.5" stroke="#333" stroke-width="1.0" stroke-linecap="butt"/>
<line x1="493.8" y1="227.5" x2="498.2" y2="227.5" stroke="#111" stroke-width="1.2" stroke-linecap="butt"/>
<line x1="496.0" y1="235.6" x2="496.0" y2="244.0" stroke="#333" stroke-width="1.0" stroke-linecap="butt"/>
<line x1="493.8" y1="244.0" x2="498.2" y2="244.0" stroke="#111" stroke-width="1.2" stroke-linecap="butt"/>
<line x1="496.0" y1="264.6" x2="496.0" y2="255.5" stroke="#333" stroke-width="1.0" stroke-linecap="butt"/>
<line x1="493.8" y1="255.5" x2="498.2" y2="255.5" stroke="#111" stroke-width="1.2" stroke-linecap="butt"/>
<line x1="496.0" y1="260.5" x2="496.0" y2="264.6" stroke="#333" stroke-width="1.0" stroke-linecap="butt"/>
<line x1="493.8" y1="264.6" x2="498.2" y2="264.6" stroke="#111" stroke-width="1.2" stroke-linecap="butt"/>
<polyline points="338.9,212.4 378.3,236.4 417.6,245.5 496.0,235.6" fill="none" stroke="#000" stroke-width="2.1" stroke-linejoin="miter"/>
<polyline points="338.9,212.4 378.1,262.7 417.6,268.2 496.0,260.5" fill="none" stroke="#000" stroke-width="2.1" stroke-linejoin="miter"/>
<circle cx="338.9" cy="212.4" r="2.1" fill="#000"/>
<circle cx="378.3" cy="236.4" r="2.1" fill="#000"/>
<circle cx="417.6" cy="245.5" r="2.1" fill="#000"/>
<circle cx="496.0" cy="235.6" r="2.1" fill="#000"/>
<circle cx="378.1" cy="262.7" r="1.9" fill="#fff" stroke="#000" stroke-width="1.1"/>
<circle cx="417.6" cy="268.2" r="1.9" fill="#fff" stroke="#000" stroke-width="1.1"/>
<circle cx="496.0" cy="260.5" r="1.9" fill="#fff" stroke="#000" stroke-width="1.1"/>
<polygon points="380.70,214.60 381.48,215.93 382.98,216.26 381.96,217.41 382.11,218.94 380.70,218.32 379.29,218.94 379.44,217.41 378.42,216.26 379.92,215.93" fill="#000"/>
<polygon points="385.50,214.60 386.28,215.93 387.78,216.26 386.76,217.41 386.91,218.94 385.50,218.32 384.09,218.94 384.24,217.41 383.22,216.26 384.72,215.93" fill="#000"/>
<polygon points="417.00,227.90 417.71,229.12 419.09,229.42 418.15,230.47 418.29,231.88 417.00,231.31 415.71,231.88 415.85,230.47 414.91,229.42 416.29,229.12" fill="#000"/>
<polygon points="421.50,227.90 422.21,229.12 423.59,229.42 422.65,230.47 422.79,231.88 421.50,231.31 420.21,231.88 420.35,230.47 419.41,229.42 420.79,229.12" fill="#000"/>
<polygon points="493.60,222.00 494.34,223.28 495.79,223.59 494.80,224.69 494.95,226.16 493.60,225.56 492.25,226.16 492.40,224.69 491.41,223.59 492.86,223.28" fill="#000"/>
<polygon points="498.60,222.00 499.34,223.28 500.79,223.59 499.80,224.69 499.95,226.16 498.60,225.56 497.25,226.16 497.40,224.69 496.41,223.59 497.86,223.28" fill="#000"/>
<line x1="429.0" y1="274.4" x2="443.8" y2="274.4" stroke="#000" stroke-width="1.3" stroke-linecap="butt"/>
<circle cx="436.4" cy="274.4" r="1.7" fill="#fff" stroke="#000" stroke-width="1"/>
<text x="445.9" y="276.9" font-size="8.0" stroke="#111" stroke-width="0.25" text-anchor="start" font-family='"Liberation Sans", sans-serif' fill="#111" textLength="34.3" lengthAdjust="spacingAndGlyphs">Wild Type</text>
<line x1="429.0" y1="286.2" x2="443.8" y2="286.2" stroke="#000" stroke-width="1.3" stroke-linecap="butt"/>
<circle cx="436.4" cy="286.2" r="1.9" fill="#000"/>
<text x="446.3" y="288.7" font-size="8.0" stroke="#111" stroke-width="0.25" text-anchor="start" font-family='"Liberation Sans", sans-serif' fill="#111" textLength="37.9" lengthAdjust="spacingAndGlyphs">Transgenic</text>
</svg>
</body></html>
